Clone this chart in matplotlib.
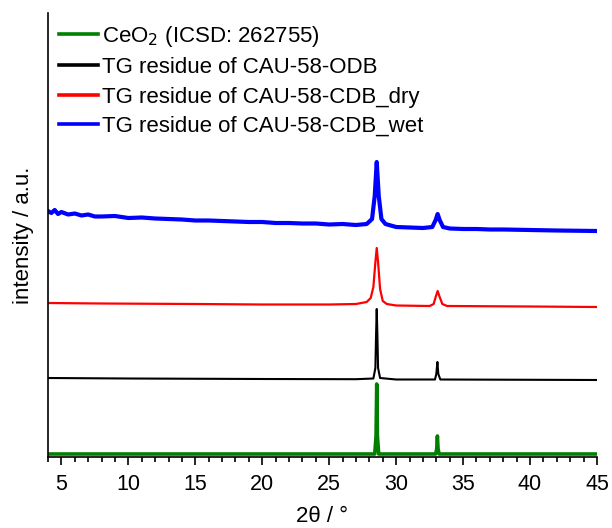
import matplotlib
matplotlib.use("Agg")
import matplotlib.pyplot as plt
from matplotlib.ticker import MultipleLocator

plt.rcParams["font.family"] = ["Liberation Sans", "DejaVu Sans"]

# powder patterns (2theta in deg, intensity in a.u.), stacked with offsets
ceo2_tt = [4, 28.40, 28.50, 28.55, 28.60, 28.70, 32.95, 33.03, 33.08, 33.13, 33.21, 45]
ceo2_int = [0, 0, 18, 70, 18, 0, 0, 5, 18, 5, 0, 0]

odb_tt = [4, 10, 20, 27, 28.3, 28.45, 28.5, 28.55, 28.6, 28.65, 28.8, 30,
          32.9, 33.0, 33.08, 33.15, 33.3, 45]
odb_int = [2, 1.5, 1, 0.8, 1.5, 12, 45, 71, 45, 12, 2, 0.5,
           0.5, 6, 18, 6, 0.5, 0]

dry_tt = [4, 8, 15, 20, 25, 27, 27.8, 28.1, 28.3, 28.45, 28.55, 28.65, 28.8,
          29.0, 29.3, 30, 32.5, 32.8, 32.95, 33.1, 33.25, 33.45, 33.8, 40, 45]
dry_int = [4, 3.5, 3, 2.5, 2.5, 3, 5, 9, 20, 45, 59, 45, 18,
           6, 3, 1.5, 1, 3, 10, 16, 10, 3, 1, 0.5, 0]

wet_tt = [4, 4.25, 4.5, 4.75, 5, 5.5, 6, 6.5, 7, 7.5, 8, 9, 10, 11, 12, 13,
          14, 15, 16, 17, 18, 19, 20, 21, 22, 23, 24, 25, 26, 27, 27.8, 28.2,
          28.4, 28.55, 28.7, 28.9, 29.2, 30, 31, 32, 32.7, 32.95, 33.1, 33.25,
          33.5, 34, 35, 36, 37, 38, 40, 42, 45]
wet_int = [20, 18, 21, 17, 19, 16.5, 17.5, 15.5, 16.5, 14.5, 14.5, 15, 13,
           13.5, 12.5, 12, 11.5, 10.5, 10.5, 10, 9.5, 9, 9, 8, 8, 7.5, 7.5,
           6.5, 7, 6, 7, 12, 35, 69, 35, 12, 7, 4, 3.5, 3, 4, 11, 17, 11, 4,
           2.5, 2, 2, 1.5, 1.5, 1, 0.5, 0]

labels = ["CeO$_2$ (ICSD: 262755)", "TG residue of CAU-58-ODB",
          "TG residue of CAU-58-CDB_dry", "TG residue of CAU-58-CDB_wet"]
offsets = [3, 77, 150, 226]
colors = ["#008000", "black", "red", "blue"]
widths = [2.6, 1.5, 1.6, 3.0]

fig = plt.figure(figsize=(6.12, 5.28), dpi=100)
ax = fig.add_axes([48 / 612, 71 / 528, 549 / 612, 444 / 528])

series = [(ceo2_tt, ceo2_int), (odb_tt, odb_int), (dry_tt, dry_int), (wet_tt, wet_int)]
for (tt, inten), off, c, lw, lab in zip(series, offsets, colors, widths, labels):
    ax.plot(tt, [v + off for v in inten], color=c, lw=lw, label=lab,
            solid_joinstyle="round")

ax.set_xlim(4, 45)
ax.set_ylim(0, 444)
ax.xaxis.set_major_locator(MultipleLocator(5))
ax.xaxis.set_minor_locator(MultipleLocator(1))
ax.tick_params(axis="x", which="major", direction="out", length=6, width=1.2,
               labelsize=15.5, pad=6)
ax.tick_params(axis="x", which="minor", direction="out", length=3.5, width=1.2)
ax.set_yticks([])
for side in ["top", "right"]:
    ax.spines[side].set_visible(False)
for side in ["left", "bottom"]:
    ax.spines[side].set_linewidth(1.2)

ax.set_xlabel("2θ / °", fontsize=16, labelpad=8)
ax.set_ylabel("intensity / a.u.", fontsize=16, labelpad=10)

leg = ax.legend(loc="upper left", bbox_to_anchor=(0.02, 0.976), frameon=False,
                fontsize=16, handlelength=1.75, handletextpad=0.2,
                labelspacing=0.38, borderpad=0, borderaxespad=0)
for h in leg.get_lines():
    h.set_linewidth(2.6)

fig.savefig("out.png", dpi=100)
